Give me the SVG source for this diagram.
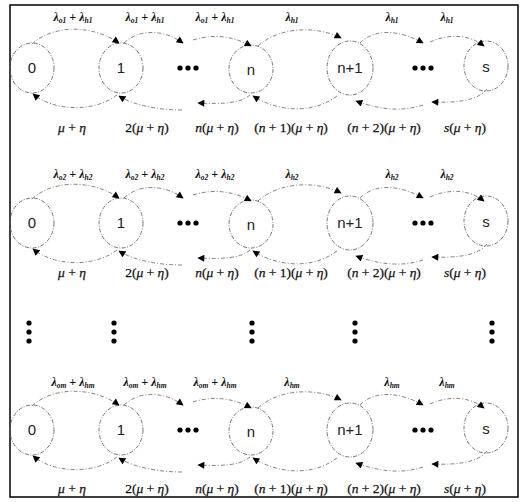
<svg xmlns="http://www.w3.org/2000/svg" width="523" height="502" viewBox="0 0 523 502">
<style>
.frame{fill:#fff;stroke:#000;stroke-width:1.5}
.node ellipse{fill:none;stroke:#666;stroke-width:0.9;stroke-dasharray:4 1.5 1 1.5}
.node text{font-family:"Liberation Sans",Arial,sans-serif;font-size:15px;fill:#222;text-anchor:middle}
.edge{fill:none;stroke:#777;stroke-width:0.9;stroke-dasharray:4 2 1 2;marker-end:url(#ah)}
.dot{fill:#000}
.lam{font-family:"Liberation Serif","Times New Roman",serif;font-size:12px;font-weight:bold;font-style:italic;fill:#111;text-anchor:middle}
.sub{font-size:7.5px}
.rate{font-family:"Liberation Serif","Times New Roman",serif;font-size:13.5px;fill:#111;text-anchor:middle;stroke:#111;stroke-width:0.25}
.it{font-style:italic}
</style>
<defs>
<marker id="ah" viewBox="0 0 10 10" refX="9" refY="5" markerWidth="8" markerHeight="7" markerUnits="userSpaceOnUse" orient="auto">
<path d="M0,0 L10,5 L0,10 z" fill="#000"/>
</marker>
</defs>
<rect class="frame" x="10" y="5" width="508" height="492"/>

<!-- Row 1 -->
<g id="row1" transform="translate(0,68)">
<g id="r1-n0" class="node"><ellipse cx="32" cy="0" rx="22" ry="25"/><text x="32" y="5">0</text></g>
<g id="r1-n1" class="node"><ellipse cx="121" cy="0" rx="22" ry="25"/><text x="121" y="5">1</text></g>
<g id="r1-d1"><circle class="dot" cx="180" cy="0" r="2.6"/><circle class="dot" cx="188" cy="0" r="2.6"/><circle class="dot" cx="196" cy="0" r="2.6"/></g>
<g id="r1-nn" class="node"><ellipse cx="251" cy="1" rx="22" ry="24"/><text x="251" y="7">n</text></g>
<g id="r1-nn1" class="node"><ellipse cx="350" cy="0" rx="23" ry="27"/><text x="350" y="5">n+1</text></g>
<g id="r1-d2"><circle class="dot" cx="415" cy="0" r="2.6"/><circle class="dot" cx="423" cy="0" r="2.6"/><circle class="dot" cx="431" cy="0" r="2.6"/></g>
<g id="r1-ns" class="node"><ellipse cx="486" cy="-2" rx="22" ry="25"/><text x="486" y="4">s</text></g>
<g id="r1-edges">
<path class="edge" d="M32,-24 C55,-45 95,-42 119,-25"/>
<path class="edge" d="M124,-25 C140,-40 165,-38 183,-25"/>
<path class="edge" d="M193,-28 C215,-35 235,-31 251,-22"/>
<path class="edge" d="M258,-22 C280,-42 318,-42 341,-30"/>
<path class="edge" d="M360,-25 C375,-40 400,-38 423,-25"/>
<path class="edge" d="M430,-26 C450,-35 470,-33 484,-22"/>
<path class="edge" d="M117,27 C95,44 55,44 33,26"/>
<path class="edge" d="M182,42 C160,42 135,38 119,28"/>
<path class="edge" d="M250,27 C240,36 220,36 198,35"/>
<path class="edge" d="M337,28 C310,48 275,42 253,28"/>
<path class="edge" d="M423,37 C400,45 375,40 356,33"/>
<path class="edge" d="M487,21 C478,33 455,35 432,34"/>
</g>
</g>

<!-- Row 2 -->
<g id="row2" transform="translate(0,223)">
<g id="r2-n0" class="node"><ellipse cx="32" cy="0" rx="22" ry="25"/><text x="32" y="5">0</text></g>
<g id="r2-n1" class="node"><ellipse cx="121" cy="0" rx="22" ry="25"/><text x="121" y="5">1</text></g>
<g id="r2-d1"><circle class="dot" cx="180" cy="0" r="2.6"/><circle class="dot" cx="188" cy="0" r="2.6"/><circle class="dot" cx="196" cy="0" r="2.6"/></g>
<g id="r2-nn" class="node"><ellipse cx="251" cy="1" rx="22" ry="24"/><text x="251" y="7">n</text></g>
<g id="r2-nn1" class="node"><ellipse cx="350" cy="0" rx="23" ry="27"/><text x="350" y="5">n+1</text></g>
<g id="r2-d2"><circle class="dot" cx="415" cy="0" r="2.6"/><circle class="dot" cx="423" cy="0" r="2.6"/><circle class="dot" cx="431" cy="0" r="2.6"/></g>
<g id="r2-ns" class="node"><ellipse cx="486" cy="-2" rx="22" ry="25"/><text x="486" y="4">s</text></g>
<g id="r2-edges">
<path class="edge" d="M32,-24 C55,-45 95,-42 119,-25"/>
<path class="edge" d="M124,-25 C140,-40 165,-38 183,-25"/>
<path class="edge" d="M193,-28 C215,-35 235,-31 251,-22"/>
<path class="edge" d="M258,-22 C280,-42 318,-42 341,-30"/>
<path class="edge" d="M360,-25 C375,-40 400,-38 423,-25"/>
<path class="edge" d="M430,-26 C450,-35 470,-33 484,-22"/>
<path class="edge" d="M117,27 C95,44 55,44 33,26"/>
<path class="edge" d="M182,42 C160,42 135,38 119,28"/>
<path class="edge" d="M250,27 C240,36 220,36 198,35"/>
<path class="edge" d="M337,28 C310,48 275,42 253,28"/>
<path class="edge" d="M423,37 C400,45 375,40 356,33"/>
<path class="edge" d="M487,21 C478,33 455,35 432,34"/>
</g>
</g>

<!-- vertical ellipsis -->
<g id="vdots">
<circle class="dot" cx="29" cy="323" r="2.6"/><circle class="dot" cx="29" cy="332" r="2.6"/><circle class="dot" cx="29" cy="341" r="2.6"/>
<circle class="dot" cx="114" cy="323" r="2.6"/><circle class="dot" cx="114" cy="332" r="2.6"/><circle class="dot" cx="114" cy="341" r="2.6"/>
<circle class="dot" cx="252" cy="323" r="2.6"/><circle class="dot" cx="252" cy="332" r="2.6"/><circle class="dot" cx="252" cy="341" r="2.6"/>
<circle class="dot" cx="355" cy="323" r="2.6"/><circle class="dot" cx="355" cy="332" r="2.6"/><circle class="dot" cx="355" cy="341" r="2.6"/>
<circle class="dot" cx="492" cy="323" r="2.6"/><circle class="dot" cx="492" cy="332" r="2.6"/><circle class="dot" cx="492" cy="341" r="2.6"/>
</g>

<!-- Row 3 -->
<g id="row3" transform="translate(0,430)">
<g id="r3-n0" class="node"><ellipse cx="32" cy="0" rx="22" ry="25"/><text x="32" y="5">0</text></g>
<g id="r3-n1" class="node"><ellipse cx="121" cy="0" rx="22" ry="25"/><text x="121" y="5">1</text></g>
<g id="r3-d1"><circle class="dot" cx="180" cy="0" r="2.6"/><circle class="dot" cx="188" cy="0" r="2.6"/><circle class="dot" cx="196" cy="0" r="2.6"/></g>
<g id="r3-nn" class="node"><ellipse cx="251" cy="1" rx="22" ry="24"/><text x="251" y="7">n</text></g>
<g id="r3-nn1" class="node"><ellipse cx="350" cy="0" rx="23" ry="27"/><text x="350" y="5">n+1</text></g>
<g id="r3-d2"><circle class="dot" cx="415" cy="0" r="2.6"/><circle class="dot" cx="423" cy="0" r="2.6"/><circle class="dot" cx="431" cy="0" r="2.6"/></g>
<g id="r3-ns" class="node"><ellipse cx="486" cy="-2" rx="22" ry="25"/><text x="486" y="4">s</text></g>
<g id="r3-edges">
<path class="edge" d="M32,-24 C55,-45 95,-42 119,-25"/>
<path class="edge" d="M124,-25 C140,-40 165,-38 183,-25"/>
<path class="edge" d="M193,-28 C215,-35 235,-31 251,-22"/>
<path class="edge" d="M258,-22 C280,-42 318,-42 341,-30"/>
<path class="edge" d="M360,-25 C375,-40 400,-38 423,-25"/>
<path class="edge" d="M430,-26 C450,-35 470,-33 484,-22"/>
<path class="edge" d="M117,27 C95,44 55,44 33,26"/>
<path class="edge" d="M182,42 C160,42 135,38 119,28"/>
<path class="edge" d="M250,27 C240,36 220,36 198,35"/>
<path class="edge" d="M337,28 C310,48 275,42 253,28"/>
<path class="edge" d="M423,37 C400,45 375,40 356,33"/>
<path class="edge" d="M487,21 C478,33 455,35 432,34"/>
</g>
</g>

<!-- labels -->
<g id="labels">
<text class="lam" x="73" y="21">λ<tspan class="sub" dy="2">o1</tspan><tspan dy="-2"> + λ</tspan><tspan class="sub" dy="2">h1</tspan></text>
<text class="lam" x="145" y="21">λ<tspan class="sub" dy="2">o1</tspan><tspan dy="-2"> + λ</tspan><tspan class="sub" dy="2">h1</tspan></text>
<text class="lam" x="215" y="21">λ<tspan class="sub" dy="2">o1</tspan><tspan dy="-2"> + λ</tspan><tspan class="sub" dy="2">h1</tspan></text>
<text class="lam" x="292" y="21">λ<tspan class="sub" dy="2">h1</tspan></text>
<text class="lam" x="392" y="21">λ<tspan class="sub" dy="2">h1</tspan></text>
<text class="lam" x="447" y="21">λ<tspan class="sub" dy="2">h1</tspan></text>

<text class="rate" x="72" y="132"><tspan class="it">μ</tspan> + <tspan class="it">η</tspan></text>
<text class="rate" x="147" y="132">2(<tspan class="it">μ</tspan> + <tspan class="it">η</tspan>)</text>
<text class="rate" x="217" y="132"><tspan class="it">n</tspan>(<tspan class="it">μ</tspan> + <tspan class="it">η</tspan>)</text>
<text class="rate" x="291" y="132">(<tspan class="it">n</tspan> + 1)(<tspan class="it">μ</tspan> + <tspan class="it">η</tspan>)</text>
<text class="rate" x="384" y="132">(<tspan class="it">n</tspan> + 2)(<tspan class="it">μ</tspan> + <tspan class="it">η</tspan>)</text>
<text class="rate" x="465" y="132"><tspan class="it">s</tspan>(<tspan class="it">μ</tspan> + <tspan class="it">η</tspan>)</text>

<text class="lam" x="73" y="178">λ<tspan class="sub" dy="2">o2</tspan><tspan dy="-2"> + λ</tspan><tspan class="sub" dy="2">h2</tspan></text>
<text class="lam" x="145" y="178">λ<tspan class="sub" dy="2">o2</tspan><tspan dy="-2"> + λ</tspan><tspan class="sub" dy="2">h2</tspan></text>
<text class="lam" x="215" y="178">λ<tspan class="sub" dy="2">o2</tspan><tspan dy="-2"> + λ</tspan><tspan class="sub" dy="2">h2</tspan></text>
<text class="lam" x="292" y="178">λ<tspan class="sub" dy="2">h2</tspan></text>
<text class="lam" x="392" y="178">λ<tspan class="sub" dy="2">h2</tspan></text>
<text class="lam" x="447" y="178">λ<tspan class="sub" dy="2">h2</tspan></text>

<text class="rate" x="72" y="277"><tspan class="it">μ</tspan> + <tspan class="it">η</tspan></text>
<text class="rate" x="147" y="277">2(<tspan class="it">μ</tspan> + <tspan class="it">η</tspan>)</text>
<text class="rate" x="217" y="277"><tspan class="it">n</tspan>(<tspan class="it">μ</tspan> + <tspan class="it">η</tspan>)</text>
<text class="rate" x="291" y="277">(<tspan class="it">n</tspan> + 1)(<tspan class="it">μ</tspan> + <tspan class="it">η</tspan>)</text>
<text class="rate" x="384" y="277">(<tspan class="it">n</tspan> + 2)(<tspan class="it">μ</tspan> + <tspan class="it">η</tspan>)</text>
<text class="rate" x="465" y="277"><tspan class="it">s</tspan>(<tspan class="it">μ</tspan> + <tspan class="it">η</tspan>)</text>

<text class="lam" x="73" y="386">λ<tspan class="sub" dy="2">om</tspan><tspan dy="-2"> + λ</tspan><tspan class="sub" dy="2">hm</tspan></text>
<text class="lam" x="145" y="386">λ<tspan class="sub" dy="2">om</tspan><tspan dy="-2"> + λ</tspan><tspan class="sub" dy="2">hm</tspan></text>
<text class="lam" x="215" y="386">λ<tspan class="sub" dy="2">om</tspan><tspan dy="-2"> + λ</tspan><tspan class="sub" dy="2">hm</tspan></text>
<text class="lam" x="292" y="386">λ<tspan class="sub" dy="2">hm</tspan></text>
<text class="lam" x="392" y="386">λ<tspan class="sub" dy="2">hm</tspan></text>
<text class="lam" x="447" y="386">λ<tspan class="sub" dy="2">hm</tspan></text>

<text class="rate" x="72" y="493"><tspan class="it">μ</tspan> + <tspan class="it">η</tspan></text>
<text class="rate" x="147" y="493">2(<tspan class="it">μ</tspan> + <tspan class="it">η</tspan>)</text>
<text class="rate" x="217" y="493"><tspan class="it">n</tspan>(<tspan class="it">μ</tspan> + <tspan class="it">η</tspan>)</text>
<text class="rate" x="291" y="493">(<tspan class="it">n</tspan> + 1)(<tspan class="it">μ</tspan> + <tspan class="it">η</tspan>)</text>
<text class="rate" x="384" y="493">(<tspan class="it">n</tspan> + 2)(<tspan class="it">μ</tspan> + <tspan class="it">η</tspan>)</text>
<text class="rate" x="465" y="493"><tspan class="it">s</tspan>(<tspan class="it">μ</tspan> + <tspan class="it">η</tspan>)</text>
</g>
</svg>
